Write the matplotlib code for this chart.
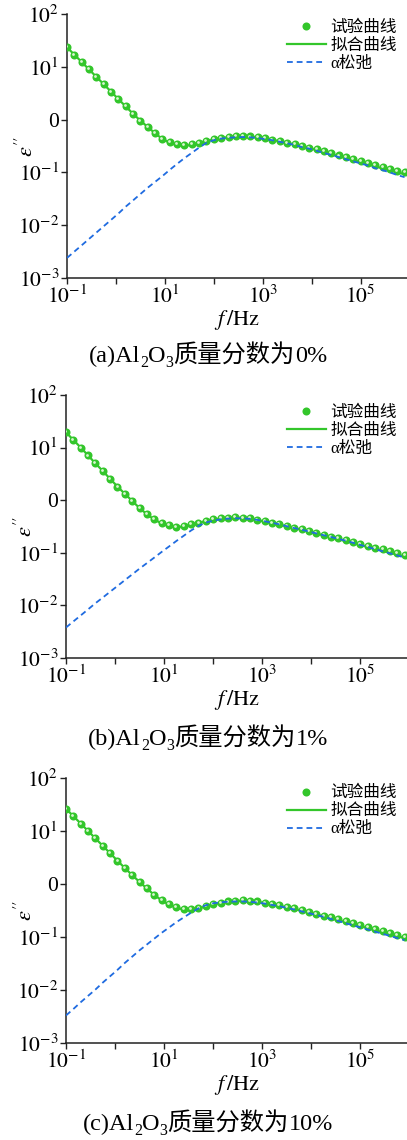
import matplotlib
matplotlib.use('Agg')
import matplotlib.pyplot as plt
from matplotlib.transforms import offset_copy

plt.rcParams['font.family'] = ['Liberation Serif', 'Noto Sans CJK SC']
plt.rcParams['mathtext.fontset'] = 'stix'
plt.rcParams['axes.unicode_minus'] = False

# frequency points (Hz)
freq = [0.1, 0.141, 0.2, 0.282, 0.398, 0.562, 0.794, 1.12, 1.58, 2.24,
        3.16, 4.47, 6.31, 8.91, 12.6, 17.8, 25.1, 35.5, 50.1, 70.8,
        100, 141, 200, 282, 398, 562, 794, 1120, 1580, 2240,
        3160, 4470, 6310, 8910, 12600, 17800, 25100, 35500, 50100, 70800,
        1.0e5, 1.41e5, 2.0e5, 2.82e5, 3.98e5, 5.62e5, 7.94e5]

# (a) 0 %
exp_a = [23.4, 17.0, 12.3, 8.91, 6.46, 4.68, 3.39, 2.45, 1.78, 1.29,
         0.955, 0.724, 0.550, 0.437, 0.372, 0.339, 0.327, 0.339, 0.363, 0.398,
         0.427, 0.452, 0.473, 0.484, 0.490, 0.479, 0.462, 0.442, 0.417, 0.394,
         0.367, 0.343, 0.316, 0.295, 0.272, 0.251, 0.229, 0.209, 0.193, 0.178,
         0.162, 0.148, 0.136, 0.126, 0.116, 0.107, 0.100]
fit_a = [23.4, 17.0, 12.3, 8.91, 6.46, 4.68, 3.39, 2.45, 1.78, 1.29,
         0.955, 0.724, 0.550, 0.430, 0.362, 0.330, 0.320, 0.331, 0.356, 0.390,
         0.420, 0.446, 0.466, 0.478, 0.482, 0.474, 0.458, 0.437, 0.412, 0.389,
         0.362, 0.338, 0.311, 0.289, 0.266, 0.245, 0.223, 0.203, 0.187, 0.172,
         0.156, 0.142, 0.130, 0.119, 0.109, 0.100, 0.092]
alpha_a = [0.00240, 0.00316, 0.00417, 0.00550, 0.00724, 0.00955, 0.0126, 0.0166, 0.0224, 0.0295,
           0.0389, 0.0513, 0.0661, 0.0851, 0.112, 0.145, 0.186, 0.234, 0.295, 0.363,
           0.407, 0.437, 0.452, 0.462, 0.468, 0.462, 0.447, 0.427, 0.407, 0.380,
           0.355, 0.331, 0.302, 0.282, 0.257, 0.234, 0.214, 0.195, 0.178, 0.162,
           0.148, 0.135, 0.120, 0.110, 0.100, 0.0891, 0.0813]

# (b) 1 %
exp_b = [19.5, 14.0, 10.0, 7.08, 5.01, 3.59, 2.54, 1.82, 1.32, 0.977,
         0.716, 0.550, 0.437, 0.372, 0.331, 0.316, 0.324, 0.347, 0.376, 0.407,
         0.432, 0.452, 0.468, 0.473, 0.468, 0.452, 0.427, 0.398, 0.372, 0.347,
         0.324, 0.302, 0.282, 0.260, 0.240, 0.221, 0.204, 0.188, 0.174, 0.160,
         0.148, 0.136, 0.126, 0.116, 0.107, 0.0989, 0.0912]
fit_b = [19.5, 14.0, 10.0, 7.08, 5.01, 3.59, 2.54, 1.82, 1.32, 0.970,
         0.705, 0.540, 0.428, 0.362, 0.322, 0.308, 0.316, 0.340, 0.370, 0.402,
         0.428, 0.448, 0.463, 0.467, 0.461, 0.445, 0.420, 0.391, 0.365, 0.340,
         0.317, 0.295, 0.275, 0.253, 0.233, 0.214, 0.197, 0.181, 0.167, 0.153,
         0.141, 0.129, 0.119, 0.109, 0.100, 0.0925, 0.0850]
alpha_b = [0.00380, 0.00495, 0.00646, 0.00841, 0.0110, 0.0141, 0.0182, 0.0234, 0.0302, 0.0389,
           0.0501, 0.0638, 0.0813, 0.104, 0.132, 0.168, 0.211, 0.266, 0.324, 0.376,
           0.407, 0.432, 0.447, 0.452, 0.452, 0.442, 0.422, 0.398, 0.372, 0.347,
           0.320, 0.295, 0.275, 0.254, 0.234, 0.216, 0.200, 0.184, 0.170, 0.155,
           0.141, 0.129, 0.117, 0.107, 0.0977, 0.0891, 0.0813]

# (c) 10 %
exp_c = [26.3, 19.1, 13.8, 10.0, 7.24, 5.25, 3.80, 2.75, 2.00, 1.48,
         1.10, 0.832, 0.631, 0.501, 0.417, 0.363, 0.339, 0.339, 0.355, 0.385,
         0.417, 0.447, 0.468, 0.484, 0.490, 0.484, 0.468, 0.447, 0.422, 0.398,
         0.372, 0.347, 0.324, 0.299, 0.275, 0.254, 0.234, 0.216, 0.200, 0.182,
         0.168, 0.155, 0.141, 0.130, 0.120, 0.111, 0.102]
fit_c = [26.3, 19.1, 13.8, 10.0, 7.24, 5.25, 3.80, 2.75, 2.00, 1.47,
         1.09, 0.820, 0.620, 0.492, 0.408, 0.355, 0.331, 0.331, 0.347, 0.377,
         0.409, 0.439, 0.461, 0.477, 0.483, 0.477, 0.461, 0.439, 0.414, 0.389,
         0.363, 0.338, 0.315, 0.290, 0.266, 0.245, 0.225, 0.207, 0.191, 0.174,
         0.160, 0.147, 0.134, 0.123, 0.113, 0.104, 0.0955]
alpha_c = [0.00331, 0.00437, 0.00589, 0.00776, 0.0102, 0.0138, 0.0182, 0.0240, 0.0324, 0.0427,
           0.0562, 0.0724, 0.0933, 0.120, 0.151, 0.191, 0.234, 0.288, 0.347, 0.398,
           0.432, 0.452, 0.462, 0.468, 0.468, 0.462, 0.447, 0.427, 0.403, 0.380,
           0.355, 0.331, 0.305, 0.282, 0.260, 0.240, 0.219, 0.200, 0.182, 0.166,
           0.151, 0.138, 0.126, 0.115, 0.105, 0.0955, 0.0871]

panels = [(exp_a, fit_a, alpha_a), (exp_b, fit_b, alpha_b), (exp_c, fit_c, alpha_c)]
captions = [('(a)', '0%'), ('(b)', '1%'), ('(c)', '10%')]
legend_labels = ['试验曲线', '拟合曲线', 'α松弛']

y_ticks = [1e-3, 1e-2, 1e-1, 1e0, 1e1, 1e2]
y_labels = [r'$10^{-3}$', r'$10^{-2}$', r'$10^{-1}$', '0', r'$10^{1}$', r'$10^{2}$']
x_ticks = [1e-1, 1e0, 1e1, 1e2, 1e3, 1e4, 1e5]
x_labels = [r'$10^{-1}$', '', r'$10^{1}$', '', r'$10^{3}$', '', r'$10^{5}$']

green = '#33c62b'
blue = '#1f6be0'

W, H = 407, 1140
fig = plt.figure(figsize=(W / 100, H / 100), dpi=100)

# axes boxes in pixels: left, top, bottom
boxes = [(67, 14, 278), (66, 395, 658), (66, 778, 1043)]
cap_y = [362, 745, 1130]
leg_y = [1.015, 1.0, 1.01]

for (exp, fit, alpha), (left, top, bot), cap, cy, ly in zip(panels, boxes, captions, cap_y, leg_y):
    ax = fig.add_axes([left / W, 1 - bot / H, (W - left) / W, (bot - top) / H])
    ax.set_xscale('log')
    ax.set_yscale('log')
    ax.plot(freq, fit, color=green, lw=1.6, zorder=2, label=legend_labels[1])
    ax.plot(freq, exp, 'o', color=green, ms=5.8, mew=0, zorder=3, label=legend_labels[0])
    hl = offset_copy(ax.transData, fig=fig, x=-0.7, y=0.7, units='points')
    ax.plot(freq, exp, 'o', color='#d9f5d2', ms=2.0, mew=0, zorder=3.5, transform=hl)
    ax.plot(freq, alpha, color=blue, lw=1.3, dashes=(3.2, 2.2), zorder=4, label=legend_labels[2])

    ax.set_xlim(0.1, 8.9e5)
    ax.set_ylim(1e-3, 1e2)
    ax.set_yticks(y_ticks)
    ax.set_yticklabels(y_labels)
    ax.set_xticks(x_ticks)
    ax.set_xticklabels(x_labels)
    ax.minorticks_off()
    ax.tick_params(labelsize=15.5, length=4, width=1, pad=1.5, color='#222222')
    for s in ['top', 'right']:
        ax.spines[s].set_visible(False)
    for s in ['left', 'bottom']:
        ax.spines[s].set_linewidth(1.1)
        ax.spines[s].set_color('#222222')

    ax.set_ylabel(r"$\varepsilon''$", fontsize=16)
    ax.yaxis.set_label_coords(-0.085, 0.5)
    ax.set_xlabel(r'$\mathit{f}\,\mathrm{/Hz}$', fontsize=16, labelpad=0)

    h, l = ax.get_legend_handles_labels()
    order = [1, 0, 2]
    ax.legend([h[i] for i in order], [l[i] for i in order], loc='upper right',
              bbox_to_anchor=(1.0, ly), frameon=False, fontsize=12,
              handlelength=2.3, handletextpad=0.3, labelspacing=0.12, borderaxespad=0.2)

    # caption with subscripts, laid out piece by piece
    r = fig.canvas.get_renderer()
    parts = [(cap[0] + 'Al', 17.5, 0), ('2', 11.5, -5), ('O', 17.5, 0), ('3', 11.5, -5),
             ('质量分数为', 17.5, 0), (cap[1], 17.5, 0)]
    txts = []
    total = 0
    for s, size, dy in parts:
        t = fig.text(0, 1 - (cy - dy) / H, s, fontsize=size, va='baseline', ha='left')
        w = t.get_window_extent(r).width
        txts.append((t, w))
        total += w
    x = 208 - total / 2
    for t, w in txts:
        t.set_x(x / W)
        x += w

fig.savefig('out.png', dpi=100)
